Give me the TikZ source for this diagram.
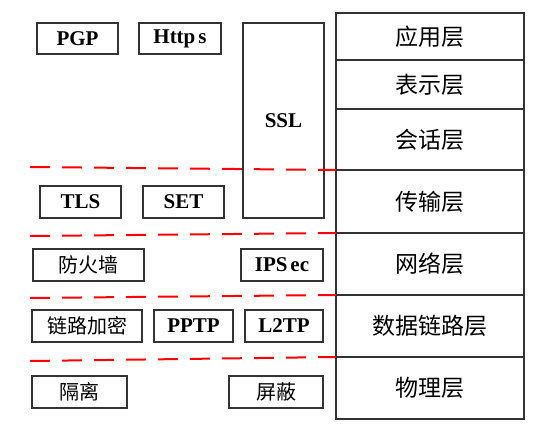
\documentclass[tikz,border=0pt]{standalone}
\usepackage{fontspec}
\setmainfont{Liberation Serif}
\newfontfamily\cjk{Noto Sans CJK SC}
\usetikzlibrary{positioning}

\tikzset{
  layer/.style={draw=black!80, line width=1.2pt, minimum width=188pt, outer sep=0pt, inner sep=0pt, font=\cjk\fontsize{23}{23}\selectfont},
  proto/.style={draw=black!80, line width=1.2pt, minimum height=31pt, inner sep=0pt, font=\bfseries\fontsize{21}{21}\selectfont},
  cnproto/.style={proto, font=\cjk\fontsize{20}{20}\selectfont},
  cut/.style={red, line width=2pt, dash pattern=on 20pt off 12pt},
}

\begin{document}
\begin{tikzpicture}[x=1pt,y=-1pt]
\useasboundingbox (0,0) rectangle (544,427);
% OSI layers
\node[layer, minimum height=47pt] (app) at (430,36.5) {应用层};
\node[layer, minimum height=49pt, below=0pt of app] (pres) {表示层};
\node[layer, minimum height=61pt, below=0pt of pres] (sess) {会话层};
\node[layer, minimum height=63pt, below=0pt of sess] (trans) {传输层};
\node[layer, minimum height=62pt, below=0pt of trans] (net) {网络层};
\node[layer, minimum height=62pt, below=0pt of net] (link) {数据链路层};
\node[layer, minimum height=62pt, below=0pt of link] (phys) {物理层};
% protocols
\node[proto, minimum width=81pt] (pgp) at (77.5,38.5) {PGP};
\node[proto, minimum width=82pt] (https) at (180,38.5) {Http\kern3pt s};
\node[proto, minimum width=81pt, minimum height=195pt] (ssl) at (283.5,120.5) {SSL};
\node[proto, minimum width=81pt, minimum height=32pt] (tls) at (80.5,202) {TLS};
\node[proto, minimum width=81pt, minimum height=32pt] (set) at (183.5,202) {SET};
\node[cnproto, minimum width=111pt, minimum height=32pt] (fw) at (88.5,265) {防火墙};
\node[proto, minimum width=82pt, minimum height=32pt] (ipsec) at (282,265) {IPS\kern3pt ec};
\node[cnproto, minimum width=110pt, minimum height=32pt] (enc) at (87,326) {链路加密};
\node[proto, minimum width=79pt, minimum height=32pt] (pptp) at (193.5,326) {PPTP};
\node[proto, minimum width=78pt, minimum height=32pt] (ltp) at (284,326) {L2TP};
\node[cnproto, minimum width=95pt, minimum height=32pt] (iso) at (79.5,392) {隔离};
\node[cnproto, minimum width=94pt, minimum height=32pt] (shd) at (276,392) {屏蔽};
% boundaries
\coordinate (c1) at (30,167);
\coordinate (c2) at (30,236);
\coordinate (c3) at (30,298);
\coordinate (c4) at (30,361);
\draw[cut] (c1) -- (sess.south west);
\draw[cut] (c2) -- (trans.south west);
\draw[cut] (c3) -- (net.south west);
\draw[cut] (c4) -- (link.south west);
\end{tikzpicture}
\end{document}
